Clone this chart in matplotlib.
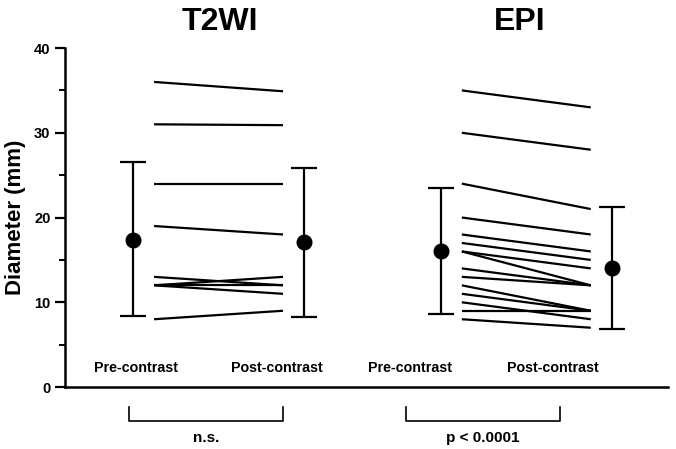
import numpy as np
import matplotlib.pyplot as plt

plt.rcParams['font.family'] = ['Liberation Sans', 'DejaVu Sans']
plt.rcParams['font.weight'] = 'bold'

# paired diameters (mm), pre -> post contrast
t2wi_pre = [36, 31, 24, 19, 13, 12, 12, 12, 8]
t2wi_post = [34.9, 30.9, 24, 18, 12, 13, 11, 12, 9]
epi_pre = [35, 30, 24, 20, 18, 17, 16, 16, 14, 13, 12, 11, 10, 9, 8]
epi_post = [33, 28, 21, 18, 16, 15, 14, 12, 12, 12, 9, 9, 8, 9, 7]

# mean and error bar ends
t2wi_mean = [17.4, 17.1]
t2wi_low = [8.4, 8.3]
t2wi_high = [26.5, 25.9]
epi_mean = [16.1, 14.1]
epi_low = [8.6, 6.9]
epi_high = [23.5, 21.3]

groups = ['T2WI', 'EPI']
stats = ['n.s.', 'p < 0.0001']
x_pre = [1.0, 2.8]
gap = 0.123

# per-group layout offsets (label/bracket placement as in the original figure)
pre_lab_off = [0.018, -0.18]
post_lab_off = [-0.158, -0.345]
title_off = [0.509, 0.463]
brk_left = [-0.023, -0.205]
brk_right = [-0.123, -0.30]

fig = plt.figure(figsize=(6.76, 4.49), dpi=100)
ax = fig.add_axes([0.0962, 0.138, 0.892, 0.755])

data = [(t2wi_pre, t2wi_post, t2wi_mean, t2wi_low, t2wi_high),
        (epi_pre, epi_post, epi_mean, epi_low, epi_high)]

for i, (pre, post, mean, low, high) in enumerate(data):
    x0 = x_pre[i]
    x1 = x0 + 1
    for a, b in zip(pre, post):
        ax.plot([x0 + gap, x1 - gap], [a, b], color='black', lw=1.6,
                solid_capstyle='butt')
    mean = np.array(mean)
    yerr = [mean - np.array(low), np.array(high) - mean]
    ax.errorbar([x0, x1], mean, yerr=yerr, fmt='o', color='black',
                ms=10.5, capsize=9.5, capthick=1.6, elinewidth=1.6)
    # labels
    ax.text(x0 + pre_lab_off[i], 2.2, 'Pre-contrast', ha='center',
            va='center', fontsize=10.3, fontweight='bold')
    ax.text(x1 + post_lab_off[i], 2.2, 'Post-contrast', ha='center',
            va='center', fontsize=10.3, fontweight='bold')
    # group title
    ax.text(x0 + title_off[i], 43.1, groups[i], ha='center', va='center',
            fontsize=23, fontweight='bold', clip_on=False)
    # bracket below axis
    bx0 = x0 + brk_left[i]
    bx1 = x1 + brk_right[i]
    ax.plot([bx0, bx0, bx1, bx1], [-2.4, -4.0, -4.0, -2.4], color='black',
            lw=1.2, clip_on=False)
    ax.text((bx0 + bx1) / 2, -6.0, stats[i], ha='center', va='center',
            fontsize=11, fontweight='bold', clip_on=False)

ax.set_xlim(0.602, 4.129)
ax.set_ylim(0, 40)
ax.set_yticks([0, 10, 20, 30, 40])
ax.set_yticks([5, 15, 25, 35], minor=True)
ax.set_xticks([])
ax.spines['top'].set_visible(False)
ax.spines['right'].set_visible(False)
ax.spines['left'].set_linewidth(1.8)
ax.spines['bottom'].set_linewidth(1.8)
ax.tick_params(axis='y', which='major', length=7, width=1.6, labelsize=10.5)
ax.tick_params(axis='y', which='minor', length=4, width=1.4)
for lab in ax.get_yticklabels():
    lab.set_fontweight('bold')
ax.set_ylabel('Diameter (mm)', fontsize=16, fontweight='bold', labelpad=6)

fig.savefig('out.png', dpi=100)
